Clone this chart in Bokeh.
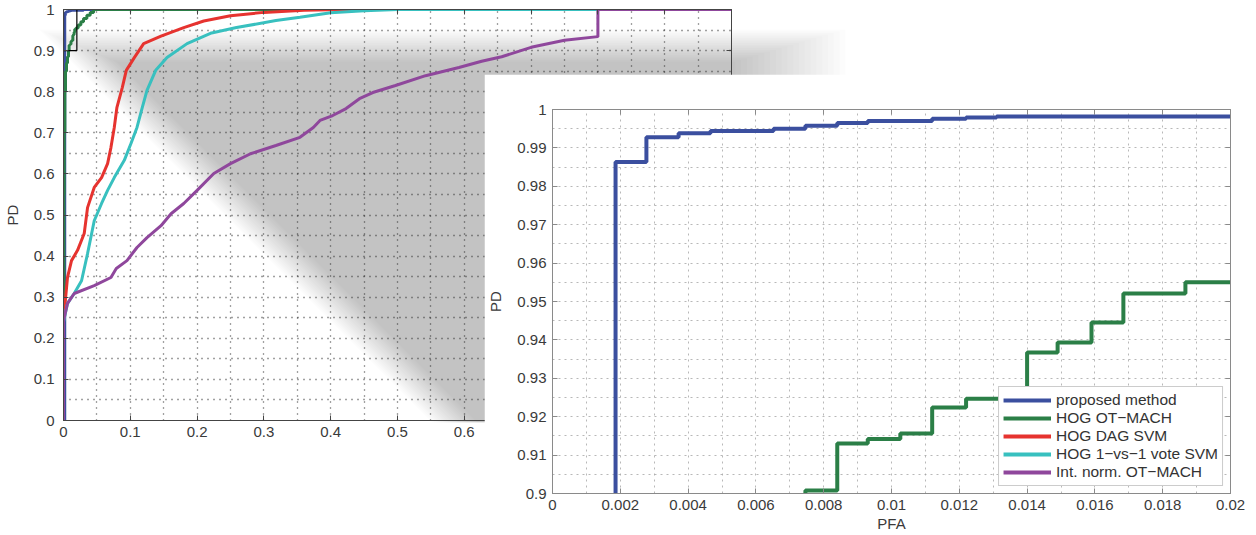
from bokeh.plotting import figure
from bokeh.models import Range1d, FixedTicker, LinearAxis, Legend, LegendItem, Label
from bokeh.embed import file_html
from bokeh.resources import INLINE

FONT = "Liberation Sans"

# ---------------- data ----------------
series_names = ["proposed method", "HOG OT\u2212MACH", "HOG DAG SVM",
                "HOG 1\u2212vs\u22121 vote SVM", "Int. norm. OT\u2212MACH"]
series_colors = ["#3b4f9f", "#2b7f47", "#e6332f", "#38c0bf", "#8f479c"]

# step curves (vertices; step mode "after")
blue_pfa = [0, 0.00186, 0.00277, 0.00372, 0.00466, 0.00652, 0.00746, 0.0084,
            0.0093, 0.0112, 0.0122, 0.0131, 0.03, 1.0]
blue_pd = [0, 0.9863, 0.9928, 0.9938, 0.9944, 0.9950, 0.9958, 0.9965,
           0.9970, 0.9976, 0.9979, 0.9982, 1.0, 1.0]

green_pfa = [0, 0.0, 0.0005, 0.001, 0.002, 0.003, 0.0045, 0.006, 0.00746, 0.0084,
             0.0093, 0.01026, 0.0112, 0.0122, 0.014, 0.0149, 0.0159, 0.01684,
             0.01867, 0.022, 0.026, 0.03, 0.035, 0.04, 0.045, 1.0]
green_pd = [0, 0.3, 0.55, 0.7, 0.8, 0.85, 0.87, 0.885, 0.9008, 0.913,
            0.9142, 0.9156, 0.9224, 0.9247, 0.9367, 0.9393, 0.9445, 0.9521,
            0.955, 0.962, 0.97, 0.978, 0.986, 0.993, 1.0, 1.0]

red_pfa = [0, 0.0, 0.0015, 0.006, 0.012, 0.021, 0.031, 0.036, 0.046, 0.057, 0.066,
           0.071, 0.076, 0.08, 0.088, 0.094, 0.106, 0.12, 0.146, 0.18, 0.21, 0.25,
           0.30, 0.36, 0.42, 1.0]
red_pd = [0, 0.25, 0.27, 0.348, 0.389, 0.414, 0.455, 0.518, 0.567, 0.591, 0.625,
          0.664, 0.713, 0.762, 0.81, 0.852, 0.883, 0.917, 0.935, 0.956, 0.972,
          0.985, 0.993, 0.998, 1.0, 1.0]

cyan_pfa = [0, 0.0, 0.006, 0.016, 0.027, 0.036, 0.046, 0.057, 0.066, 0.076, 0.091,
            0.101, 0.11, 0.118, 0.125, 0.138, 0.155, 0.185, 0.22, 0.259, 0.318,
            0.354, 0.40, 0.45, 0.50, 1.0]
cyan_pd = [0, 0.24, 0.285, 0.309, 0.34, 0.406, 0.486, 0.528, 0.56, 0.591, 0.633,
           0.674, 0.713, 0.762, 0.803, 0.852, 0.883, 0.917, 0.942, 0.956, 0.973,
           0.981, 0.992, 0.997, 1.0, 1.0]

purple_pfa = [0, 0.0, 0.006, 0.016, 0.046, 0.071, 0.079, 0.095, 0.11, 0.125, 0.146,
              0.161, 0.18, 0.2, 0.225, 0.25, 0.28, 0.318, 0.354, 0.374, 0.384,
              0.403, 0.423, 0.443, 0.463, 0.497, 0.542, 0.592, 0.626, 0.656, 0.70,
              0.75, 0.80, 0.80, 1.0]
purple_pd = [0, 0.243, 0.285, 0.309, 0.328, 0.348, 0.37, 0.389, 0.421, 0.445, 0.474,
             0.503, 0.528, 0.56, 0.601, 0.625, 0.649, 0.669, 0.689, 0.713, 0.73,
             0.742, 0.759, 0.783, 0.798, 0.815, 0.839, 0.859, 0.874, 0.885, 0.908,
             0.925, 0.934, 1.0, 1.0]

# zoom window marked on the main plot
zoom_pfa = [0.0, 0.02]
zoom_pd = [0.9, 1.0]

# tick labels
main_x_ticks = [0, 0.1, 0.2, 0.3, 0.4, 0.5, 0.6, 0.7, 0.8, 0.9, 1]
main_y_ticks = [0, 0.1, 0.2, 0.3, 0.4, 0.5, 0.6, 0.7, 0.8, 0.9, 1]
main_grid_ticks = [0.05, 0.1, 0.15, 0.2, 0.25, 0.3, 0.35, 0.4, 0.45, 0.5, 0.55,
                   0.6, 0.65, 0.7, 0.75, 0.8, 0.85, 0.9, 0.95]
inset_x_ticks = [0, 0.002, 0.004, 0.006, 0.008, 0.01, 0.012, 0.014, 0.016, 0.018, 0.02]
inset_x_grid = [0.001, 0.002, 0.003, 0.004, 0.005, 0.006, 0.007, 0.008, 0.009, 0.01,
                0.011, 0.012, 0.013, 0.014, 0.015, 0.016, 0.017, 0.018, 0.019]
inset_y_ticks = [0.9, 0.91, 0.92, 0.93, 0.94, 0.95, 0.96, 0.97, 0.98, 0.99, 1]
inset_y_grid = [0.905, 0.91, 0.915, 0.92, 0.925, 0.93, 0.935, 0.94, 0.945, 0.95,
                0.955, 0.96, 0.965, 0.97, 0.975, 0.98, 0.985, 0.99, 0.995]


def fmt(v):
    return "%g" % v


def style_axis(ax, ticks, color, show_labels=True, standoff=6):
    ax.ticker = FixedTicker(ticks=ticks)
    ax.axis_line_color = color
    ax.major_tick_line_color = color
    ax.major_tick_in = 5
    ax.major_tick_out = 0
    ax.minor_tick_line_color = None
    ax.axis_label_text_font = FONT
    ax.axis_label_text_font_style = "normal"
    ax.axis_label_text_font_size = "15px"
    ax.axis_label_text_color = "#3a3a3a"
    if show_labels:
        ax.major_label_overrides = {t: fmt(t) for t in ticks}
        ax.major_label_text_font = FONT
        ax.major_label_text_color = "#3a3a3a"
        ax.major_label_standoff = standoff
        ax.major_label_text_font_size = "15px"
    else:
        ax.major_label_text_color = None
        ax.major_label_text_alpha = 0
        ax.major_label_text_font_size = "1px"
        ax.major_label_standoff = 0


# ---------------- shadow layer (decoration) ----------------
shadow = figure(width=1256, height=535, x_range=Range1d(0, 1256), y_range=Range1d(535, 0),
                output_backend="svg", toolbar_location=None, min_border=0,
                x_axis_location=None, y_axis_location=None)
shadow.grid.visible = False
shadow.outline_line_color = None
N = 20
for k in range(N):
    e = 0.5 - k / (N - 1)
    t = 45 - e * 32
    r = 790 + e * 110
    c = -32 + e * 45
    B = 422
    shadow.patch([t - c, r, r, B - c], [t, t, B, B], fill_color="black",
                 fill_alpha=0.0133, line_color=None)
shadow.styles = {"position": "absolute", "left": "0px", "top": "0px"}

# ---------------- main ROC plot ----------------
main = figure(width=760, height=460, x_range=Range1d(0, 1), y_range=Range1d(0, 1),
              output_backend="svg", toolbar_location=None,
              min_border_left=59, min_border_top=9, min_border_right=29, min_border_bottom=40,
              background_fill_alpha=0, border_fill_alpha=0)
main.outline_line_color = "#444444"
style_axis(main.xaxis[0], main_x_ticks, "#444444")
style_axis(main.yaxis[0], main_y_ticks, "#444444", standoff=9)
main.yaxis[0].axis_label = "PD"
main.yaxis[0].axis_label_standoff = 10
top_ax = LinearAxis()
style_axis(top_ax, main_x_ticks, "#444444", show_labels=False)
right_ax = LinearAxis()
style_axis(right_ax, main_y_ticks, "#444444", show_labels=False)
main.add_layout(top_ax, "above")
main.add_layout(right_ax, "right")
for g, tk in ((main.xgrid[0], main_grid_ticks), (main.ygrid[0], main_grid_ticks)):
    g.ticker = FixedTicker(ticks=tk)
    g.grid_line_color = "#222222"
    g.grid_line_dash = "1 5"
    g.grid_line_width = 1.3
    g.grid_line_alpha = 0.85

main.step(blue_pfa, blue_pd, mode="after", line_color=series_colors[0], line_width=3)
main.step(green_pfa, green_pd, mode="after", line_color=series_colors[1], line_width=3)
main.line(red_pfa, red_pd, line_color=series_colors[2], line_width=3)
main.line(cyan_pfa, cyan_pd, line_color=series_colors[3], line_width=3)
main.line(purple_pfa, purple_pd, line_color=series_colors[4], line_width=3)
main.quad(left=zoom_pfa[0], right=zoom_pfa[1], bottom=zoom_pd[0], top=zoom_pd[1],
          fill_color=None, line_color="black", line_width=1.2)
main.add_layout(Label(x=0.555, y=-0.052, text="PFA", text_align="center",
                      text_baseline="middle", text_font=FONT,
                      text_font_size="15px", text_color="#3a3a3a"))
main.styles = {"position": "absolute", "left": "0px", "top": "0px"}

# ---------------- zoomed inset ----------------
inset = figure(width=772, height=461, x_range=Range1d(0, 0.02), y_range=Range1d(0.9, 1.0),
               output_backend="svg", toolbar_location=None,
               min_border_left=68, min_border_top=35, min_border_right=26, min_border_bottom=42,
               background_fill_color="white", border_fill_color="white")
inset.outline_line_color = "#8a8a8a"
style_axis(inset.xaxis[0], inset_x_ticks, "#8a8a8a")
style_axis(inset.yaxis[0], inset_y_ticks, "#8a8a8a")
inset.xaxis[0].axis_label = "PFA"
inset.xaxis[0].axis_label_standoff = 2
inset.yaxis[0].axis_label = "PD"
inset.yaxis[0].axis_label_standoff = 10
itop = LinearAxis()
style_axis(itop, inset_x_ticks, "#8a8a8a", show_labels=False)
iright = LinearAxis()
style_axis(iright, inset_y_ticks, "#8a8a8a", show_labels=False)
inset.add_layout(itop, "above")
inset.add_layout(iright, "right")
inset.xgrid[0].ticker = FixedTicker(ticks=inset_x_grid)
inset.ygrid[0].ticker = FixedTicker(ticks=inset_y_grid)
for g in (inset.xgrid[0], inset.ygrid[0]):
    g.grid_line_color = "#a0a0a0"
    g.grid_line_dash = "2 4"
    g.grid_line_width = 1
    g.grid_line_alpha = 0.75

r0 = inset.step(blue_pfa, blue_pd, mode="after", line_color=series_colors[0], line_width=4)
r1 = inset.step(green_pfa, green_pd, mode="after", line_color=series_colors[1], line_width=4)
r2 = inset.line(red_pfa, red_pd, line_color=series_colors[2], line_width=4)
r3 = inset.line(cyan_pfa, cyan_pd, line_color=series_colors[3], line_width=4)
r4 = inset.line(purple_pfa, purple_pd, line_color=series_colors[4], line_width=4)

legend = Legend(items=[LegendItem(label=n, renderers=[r]) for n, r in
                       zip(series_names, [r0, r1, r2, r3, r4])],
                location="bottom_right")
legend.margin = 7
legend.padding = 4
legend.spacing = 0
legend.glyph_width = 48
legend.glyph_height = 18
legend.label_height = 18
legend.label_standoff = 5
legend.label_text_font = FONT
legend.label_text_font_size = "15.5px"
legend.label_text_color = "#333333"
legend.border_line_color = "#9a9a9a"
legend.background_fill_color = "white"
legend.background_fill_alpha = 1
inset.add_layout(legend)
inset.styles = {"position": "absolute", "left": "484px", "top": "74px"}

open("out.html", "w").write(file_html([shadow, main, inset], INLINE))
